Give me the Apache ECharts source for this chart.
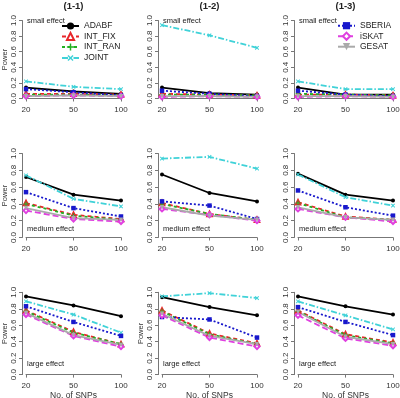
<!DOCTYPE html>
<html><head><meta charset="utf-8">
<script src="https://cdn.jsdelivr.net/npm/echarts@6/dist/echarts.min.js"></script>
<style>html,body{margin:0;padding:0;background:#fff}#c{width:400px;height:398px}</style>
</head><body><div id="c"></div>
<script>
// ---------- data ----------
const snps = ['20', '50', '100'];
const panelTitles = ['(1-1)', '(1-2)', '(1-3)'];
const effectLabels = ['small effect', 'medium effect', 'large effect'];
const yMin = 0, yMax = 1, yStep = 0.2;
const legendA = ['ADABF', 'INT_FIX', 'INT_RAN', 'JOINT'];
const legendB = ['SBERIA', 'iSKAT', 'GESAT'];
// each method: 9 panels in order small(1-1,1-2,1-3), medium(...), large(...)
const ADABF = [
  [0.14, 0.09, 0.06], [0.14, 0.07, 0.05], [0.14, 0.05, 0.05],
  [0.72, 0.51, 0.44], [0.75, 0.53, 0.43], [0.76, 0.51, 0.44],
  [0.95, 0.84, 0.71], [0.94, 0.82, 0.72], [0.95, 0.83, 0.73]];
const INT_FIX = [
  [0.06, 0.06, 0.05], [0.06, 0.05, 0.04], [0.05, 0.05, 0.04],
  [0.41, 0.27, 0.22], [0.41, 0.28, 0.21], [0.42, 0.25, 0.21],
  [0.78, 0.52, 0.37], [0.78, 0.50, 0.38], [0.78, 0.49, 0.39]];
const INT_RAN = [
  [0.05, 0.05, 0.04], [0.05, 0.05, 0.04], [0.06, 0.05, 0.04],
  [0.40, 0.26, 0.21], [0.40, 0.28, 0.21], [0.41, 0.24, 0.21],
  [0.77, 0.51, 0.37], [0.77, 0.49, 0.37], [0.77, 0.48, 0.38]];
const JOINT = [
  [0.22, 0.15, 0.12], [0.94, 0.81, 0.65], [0.22, 0.12, 0.12],
  [0.74, 0.46, 0.37], [0.94, 0.96, 0.82], [0.75, 0.48, 0.38],
  [0.89, 0.73, 0.51], [0.95, 0.99, 0.93], [0.89, 0.72, 0.55]];
const SBERIA = [
  [0.12, 0.08, 0.04], [0.10, 0.06, 0.03], [0.10, 0.05, 0.03],
  [0.54, 0.35, 0.25], [0.43, 0.38, 0.22], [0.56, 0.36, 0.26],
  [0.83, 0.64, 0.47], [0.70, 0.67, 0.45], [0.82, 0.64, 0.48]];
const iSKAT = [
  [0.03, 0.04, 0.03], [0.02, 0.03, 0.02], [0.02, 0.03, 0.02],
  [0.32, 0.22, 0.19], [0.34, 0.27, 0.20], [0.34, 0.24, 0.19],
  [0.73, 0.47, 0.34], [0.72, 0.45, 0.34], [0.72, 0.44, 0.35]];
const GESAT = [
  [0.03, 0.04, 0.03], [0.03, 0.03, 0.02], [0.03, 0.03, 0.02],
  [0.35, 0.23, 0.21], [0.36, 0.26, 0.21], [0.36, 0.24, 0.21],
  [0.75, 0.48, 0.36], [0.74, 0.47, 0.37], [0.76, 0.46, 0.37]];

// ---------- styles / layout ----------
const FONT = '"Liberation Sans", Arial, sans-serif';
const plusPath = 'path://M4,0h2v4h4v2h-4v4h-2v-4h-4v-2h4z';
const styles = {
  ADABF:   {data: ADABF,   color: '#000000', type: 'solid',     symbol: 'circle',        size: 4,   rot: 0},
  INT_FIX: {data: INT_FIX, color: '#e8262a', type: [4, 3],      symbol: 'emptyTriangle', size: 4.5, rot: 0},
  INT_RAN: {data: INT_RAN, color: '#22b022', type: [3, 3],      symbol: plusPath,        size: 5,   rot: 0},
  JOINT:   {data: JOINT,   color: '#40d2d8', type: [6, 2, 1.5, 2], symbol: plusPath,     size: 5,   rot: 45},
  SBERIA:  {data: SBERIA,  color: '#1818cc', type: [2, 2],      symbol: 'rect',          size: 4.5, rot: 0},
  iSKAT:   {data: iSKAT,   color: '#e040e0', type: [6, 3],      symbol: 'emptyDiamond',  size: 5,   rot: 0},
  GESAT:   {data: GESAT,   color: '#aaaaaa', type: 'solid',     symbol: 'triangle',      size: 4.5, rot: 180}
};
const order = ['ADABF', 'INT_FIX', 'INT_RAN', 'JOINT', 'SBERIA', 'iSKAT', 'GESAT'];
const colLeft = [26, 162, 298], colWidth = 95;
const rowTop = [20.5, 153.5, 292.3], rowHeight = [78, 84, 82.3];
const effectY = [20.5, 228.5, 364];
const axisColor = '#777', textColor = '#333';

const grids = [], xAxes = [], yAxes = [], series = [], graphics = [];
for (let r = 0; r < 3; r++) {
  for (let c = 0; c < 3; c++) {
    const i = r * 3 + c;
    grids.push({left: colLeft[c], top: rowTop[r], width: colWidth, height: rowHeight[r],
      containLabel: false, outerBoundsMode: 'none'});
    xAxes.push({
      gridIndex: i, type: 'category', data: snps, boundaryGap: false, offset: 3.5,
      axisLine: {lineStyle: {color: axisColor, width: 1}},
      axisTick: {length: 3, lineStyle: {color: axisColor}},
      axisLabel: {fontSize: 8, color: textColor, margin: 4, interval: 0, fontFamily: FONT},
      splitLine: {show: false},
      name: r === 2 ? 'No. of SNPs' : '', nameLocation: 'middle', nameGap: 13,
      nameMoveOverlap: false,
      nameTextStyle: {fontSize: 8.5, color: textColor, fontFamily: FONT}
    });
    const showPower = (c === 0) || (r === 2 && c === 1);
    yAxes.push({
      gridIndex: i, type: 'value', min: yMin, max: yMax, interval: yStep, offset: 4,
      axisLine: {show: true, lineStyle: {color: axisColor, width: 1}},
      axisTick: {show: true, length: 3, lineStyle: {color: axisColor}},
      axisLabel: {fontSize: 8, color: textColor, margin: 4, rotate: 90, fontFamily: FONT,
        formatter: v => v.toFixed(1)},
      splitLine: {show: false},
      name: showPower ? 'Power' : '', nameLocation: 'middle', nameGap: 13, nameMoveOverlap: false,
      nameTextStyle: {fontSize: 7.5, color: textColor, fontFamily: FONT}
    });
    for (const m of order) {
      const s = styles[m];
      series.push({
        name: m, type: 'line', xAxisIndex: i, yAxisIndex: i, data: s.data[i],
        symbol: s.symbol, symbolSize: s.size, symbolRotate: s.rot, showSymbol: true,
        clip: false, animation: false,
        itemStyle: {color: s.color},
        lineStyle: {color: s.color, width: 1.8, type: s.type}
      });
    }
    if (r === 0) {
      graphics.push({type: 'text', x: colLeft[c] + colWidth / 2, y: 6,
        style: {text: panelTitles[c], font: 'bold 9.5px ' + FONT, fill: '#222', align: 'center', verticalAlign: 'middle'}});
    }
    graphics.push({type: 'text', x: colLeft[c] + 1, y: effectY[r],
      style: {text: effectLabels[r], font: '7.5px ' + FONT, fill: '#222', align: 'left', verticalAlign: 'middle'}});
  }
}

const legendCommon = {orient: 'vertical', itemWidth: 17, itemHeight: 9, itemGap: 1.4,
  textStyle: {fontSize: 8.5, color: '#222', fontFamily: FONT}, padding: 0, selectedMode: false};

const chart = echarts.init(document.getElementById('c'), null, {renderer: 'canvas'});
chart.setOption({
  animation: false,
  backgroundColor: '#fff',
  grid: grids, xAxis: xAxes, yAxis: yAxes, series: series,
  legend: [
    Object.assign({data: legendA, left: 61, top: 21.5}, legendCommon),
    Object.assign({data: legendB, left: 337, top: 21.2}, legendCommon)
  ],
  graphic: graphics
});
</script></body></html>
